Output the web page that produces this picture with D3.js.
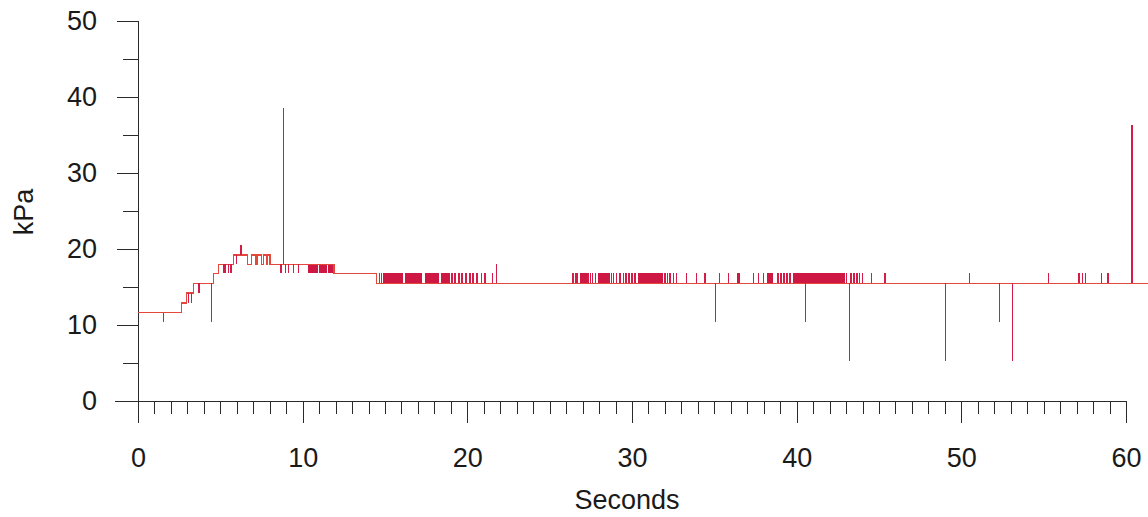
<!DOCTYPE html>
<html>
<head>
<meta charset="utf-8">
<script src="https://cdn.jsdelivr.net/npm/d3@7"></script>
<style>
  html, body { margin: 0; padding: 0; background: #ffffff; }
  svg { display: block; }
  text { font-family: "Liberation Sans", Arial, sans-serif; fill: #1a1a1a; }
</style>
</head>
<body>
<svg id="chart" width="1148" height="517"></svg>
<script>
// ---- data ----
const xMajorTicks = [0, 10, 20, 30, 40, 50, 60];
const xMinorTicks = [1,2,3,4,5,6,7,8,9,11,12,13,14,15,16,17,18,19,21,22,23,24,25,26,27,28,29,31,32,33,34,35,36,37,38,39,41,42,43,44,45,46,47,48,49,51,52,53,54,55,56,57,58,59];
const yMajorTicks = [0, 10, 20, 30, 40, 50];
const yMinorTicks = [5, 15, 25, 35, 45];

// baseline pressure level (step function, value holds until next time)
const stepTimes  = [0, 2.65, 2.95, 3.37, 4.57, 4.88, 5.8, 6.64, 6.9, 7.17, 7.25, 7.51, 7.61, 7.81, 7.88, 8.02, 11.9, 14.5, 61.4];
const stepValues = [11.6, 12.9, 14.2, 15.5, 16.8, 18.0, 19.2, 18.0, 19.2, 18.0, 19.2, 18.0, 19.2, 18.0, 19.2, 18.0, 16.8, 15.5, 15.5];

// momentary excursions from the baseline (time, value reached)
const spikeTimes = [
  1.54, 3.06, 3.26, 3.7, 4.47, 5.18, 5.28, 5.48, 5.65, 6.0, 6.25,
  8.65, 8.72, 8.82, 8.95, 9.13, 9.43, 9.73,
  14.49, 14.69, 14.8, 19.07, 19.25, 19.49, 19.68, 19.92, 20.16, 20.34, 20.59, 20.87, 21.07, 21.54, 21.78,
  26.42, 26.6, 26.68, 27.33, 27.48, 27.6, 27.8, 28.77, 28.86, 29.07, 29.27, 29.47, 29.64, 29.82, 30.0, 30.18,
  32.0, 32.14, 32.31, 32.51, 32.71, 33.32, 33.93, 34.43, 35.08, 35.3, 35.85, 37.36, 37.67, 37.97,
  38.87, 39.05, 39.23, 39.41, 39.59, 40.52, 43.05, 43.2, 43.3, 43.48, 43.66, 43.84, 44.02, 44.55, 45.36,
  49.04, 50.5, 52.34, 53.1, 55.3, 57.15, 57.36, 57.56, 58.51, 58.91, 60.37
];
const spikeValues = [
  10.4, 12.9, 12.9, 14.2, 10.4, 16.8, 16.8, 16.8, 16.8, 18.0, 20.5,
  16.8, 16.8, 38.5, 16.8, 16.8, 16.8, 16.8,
  16.8, 16.8, 16.8, 16.8, 16.8, 16.8, 16.8, 16.8, 16.8, 16.8, 16.8, 16.8, 16.8, 16.8, 18.0,
  16.8, 16.8, 16.8, 16.8, 16.8, 16.8, 16.8, 16.8, 16.8, 16.8, 16.8, 16.8, 16.8, 16.8, 16.8, 16.8,
  16.8, 16.8, 16.8, 16.8, 16.8, 16.8, 16.8, 16.8, 10.4, 16.8, 16.8, 16.8, 16.8, 16.8,
  16.8, 16.8, 16.8, 16.8, 16.8, 10.4, 16.8, 5.3, 16.8, 16.8, 16.8, 16.8, 16.8, 16.8, 16.8,
  5.3, 16.8, 10.4, 5.3, 16.8, 16.8, 16.8, 16.8, 16.8, 16.8, 36.3
];

// stretches of rapid toggling between the baseline and another level
const burstStart = [10.34, 11.0, 11.55, 14.88, 16.21, 17.43, 18.4, 26.84, 27.95, 30.36, 36.36, 38.18, 39.8];
const burstEnd   = [10.95, 11.5, 11.86, 16.09, 17.23, 18.3, 18.95, 27.25, 28.66, 31.88, 36.56, 38.58, 42.93];
const burstLevel = [16.8, 16.8, 16.8, 16.8, 16.8, 16.8, 16.8, 16.8, 16.8, 16.8, 16.8, 16.8, 16.8];

// ---- chart ----
const svg = d3.select("#chart");
const x = d3.scaleLinear().domain([0, 60]).range([138, 1126]);
const y = d3.scaleLinear().domain([0, 50]).range([401, 21]);

const baseAt = t => stepValues[Math.max(0, d3.bisectRight(stepTimes, t) - 1)];

const axisColor = "#2a2a2a";
const fontSize = 27;
const fontFamily = "Liberation Sans, Arial, sans-serif";

// Y axis
const yAxisG = svg.append("g").attr("transform", "translate(138,0)");
yAxisG.call(d3.axisLeft(y).tickValues(yMajorTicks).tickSize(21).tickPadding(20).tickFormat(d3.format("d")));
yAxisG.select(".domain").remove();
yAxisG.selectAll("line").attr("stroke", axisColor).attr("shape-rendering", "crispEdges");
yAxisG.selectAll("text").attr("font-size", fontSize).attr("font-family", fontFamily).attr("fill", "#1a1a1a");
const yMinorG = svg.append("g").attr("transform", "translate(138,0)");
yMinorG.call(d3.axisLeft(y).tickValues(yMinorTicks).tickSize(15).tickFormat(""));
yMinorG.select(".domain").remove();
yMinorG.selectAll("line").attr("stroke", axisColor).attr("shape-rendering", "crispEdges");
svg.append("line")
  .attr("x1", 138).attr("x2", 138).attr("y1", y(50)).attr("y2", y(0) + 22)
  .attr("stroke", axisColor).attr("shape-rendering", "crispEdges");

// X axis
const xAxisG = svg.append("g").attr("transform", `translate(0,${y(0)})`);
xAxisG.call(d3.axisBottom(x).tickValues(xMajorTicks).tickSize(22).tickPadding(25).tickFormat(d3.format("d")));
xAxisG.select(".domain").remove();
xAxisG.selectAll("line").attr("stroke", axisColor).attr("shape-rendering", "crispEdges");
xAxisG.selectAll("text").attr("font-size", fontSize).attr("font-family", fontFamily).attr("fill", "#1a1a1a");
const xMinorG = svg.append("g").attr("transform", `translate(0,${y(0)})`);
xMinorG.call(d3.axisBottom(x).tickValues(xMinorTicks).tickSize(13).tickFormat(""));
xMinorG.select(".domain").remove();
xMinorG.selectAll("line").attr("stroke", axisColor).attr("shape-rendering", "crispEdges");
svg.append("line")
  .attr("x1", 115).attr("x2", x(60)).attr("y1", y(0)).attr("y2", y(0))
  .attr("stroke", axisColor).attr("shape-rendering", "crispEdges");

// axis titles
svg.append("text")
  .attr("transform", "translate(33,212) rotate(-90)")
  .attr("text-anchor", "middle")
  .attr("font-size", fontSize)
  .text("kPa");
svg.append("text")
  .attr("x", 627).attr("y", 509)
  .attr("text-anchor", "middle")
  .attr("font-size", fontSize)
  .text("Seconds");

// ---- data marks ----
const plot = svg.append("g");

// bursts (dense toggling)
plot.selectAll("rect.burst")
  .data(burstStart.map((s, i) => ({ s, e: burstEnd[i], v: burstLevel[i] })))
  .join("rect")
  .attr("class", "burst")
  .attr("x", d => x(d.s))
  .attr("width", d => Math.max(1, x(d.e) - x(d.s)))
  .attr("y", d => Math.min(y(d.v), y(baseAt(d.s))))
  .attr("height", d => Math.abs(y(d.v) - y(baseAt(d.s))))
  .attr("fill", "#cf1744")
  .attr("shape-rendering", "crispEdges");

// baseline step line
const stepData = stepTimes.map((t, i) => [t, stepValues[i]]);
plot.append("path")
  .datum(stepData)
  .attr("d", d3.line().x(d => x(d[0])).y(d => y(d[1])).curve(d3.curveStepAfter))
  .attr("fill", "none")
  .attr("stroke", "#e4483a")
  .attr("stroke-width", 1.2)
  .attr("shape-rendering", "crispEdges");

// spikes
plot.selectAll("line.spike")
  .data(spikeTimes.map((t, i) => ({ t, v: spikeValues[i] })))
  .join("line")
  .attr("class", "spike")
  .attr("x1", d => x(d.t)).attr("x2", d => x(d.t))
  .attr("y1", d => y(baseAt(d.t)))
  .attr("y2", d => y(d.v))
  .attr("stroke", "#d41c48")
  .attr("stroke-width", 1.2)
  .attr("shape-rendering", "crispEdges");
</script>
</body>
</html>
